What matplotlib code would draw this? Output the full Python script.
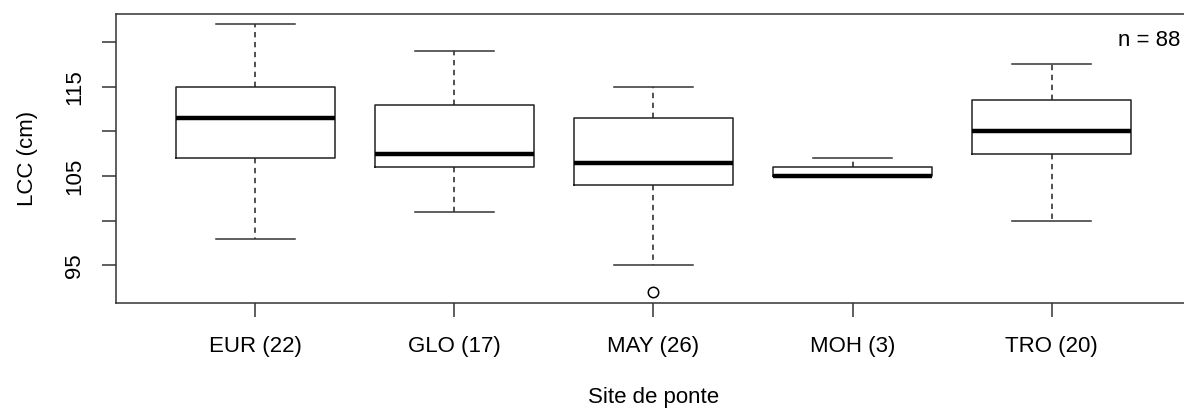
"""Boxplot of LCC by nesting site (R-style look)"""
import matplotlib
matplotlib.use("Agg")
import matplotlib.pyplot as plt

plt.rcParams['font.family'] = ['Liberation Sans', 'DejaVu Sans']

# values
sites = ["EUR (22)", "GLO (17)", "MAY (26)", "MOH (3)", "TRO (20)"]
whis_lo = [98, 101, 95, 105, 100]
q1 = [107, 106, 104, 105, 107.5]
median = [111.5, 107.5, 106.5, 105, 110]
q3 = [115, 113, 111.5, 106, 113.5]
whis_hi = [122, 119, 115, 107, 117.5]
outliers = [[], [], [92], [], []]

y_ticks = [95, 100, 105, 110, 115, 120]
y_labels = ["95", "", "105", "", "115", ""]
n_total = 88

stats = []
for i, name in enumerate(sites):
    stats.append(dict(label=name, med=median[i], q1=q1[i], q3=q3[i],
                      whislo=whis_lo[i], whishi=whis_hi[i], fliers=outliers[i]))

fig = plt.figure(figsize=(11.84, 4.12), dpi=100)
ax = fig.add_axes([116 / 1184, 1 - 303 / 412, 1075 / 1184, 289.5 / 412])

ax.bxp(stats, positions=range(1, len(sites) + 1), widths=0.8, capwidths=0.4,
       boxprops=dict(color="#222222", linewidth=1.1),
       medianprops=dict(color="black", linewidth=3.2, solid_capstyle="butt"),
       whiskerprops=dict(color="#222222", linewidth=1.1, linestyle=(0, (3.5, 3))),
       capprops=dict(color="#333333", linewidth=1.1),
       flierprops=dict(marker="o", markersize=7.5, markerfacecolor="none",
                       markeredgecolor="black", markeredgewidth=1.1))

# R default limits: data range padded by 4 %
all_vals = whis_lo + whis_hi + [v for o in outliers for v in o]
lo, hi = min(all_vals), max(all_vals)
pad = (hi - lo) * 0.04
ax.set_ylim(lo - pad, hi + pad)
ax.set_xlim(0.3, len(sites) + 0.7)

ax.set_yticks(y_ticks)
ax.set_yticklabels(y_labels, rotation=90, va="center")
ax.set_xticks(range(1, len(sites) + 1))
ax.set_xticklabels(sites)
ax.tick_params(axis="both", direction="out", length=10, width=1.1,
               labelsize=16, color="#333333")
ax.tick_params(axis="x", pad=14)
ax.tick_params(axis="y", pad=12)

for sp in ax.spines.values():
    sp.set_linewidth(1.1)
    sp.set_color("#333333")

ax.set_ylabel("LCC (cm)", fontsize=16)
ax.set_xlabel("Site de ponte", fontsize=16)
ax.yaxis.set_label_coords(-0.073, 0.5)
ax.xaxis.set_label_coords(0.5, -0.29)

fig.text(1180 / 1184, 1 - 41 / 412, f"n = {n_total}", ha="right", va="center",
         fontsize=16)

fig.savefig("out.png", dpi=100)
